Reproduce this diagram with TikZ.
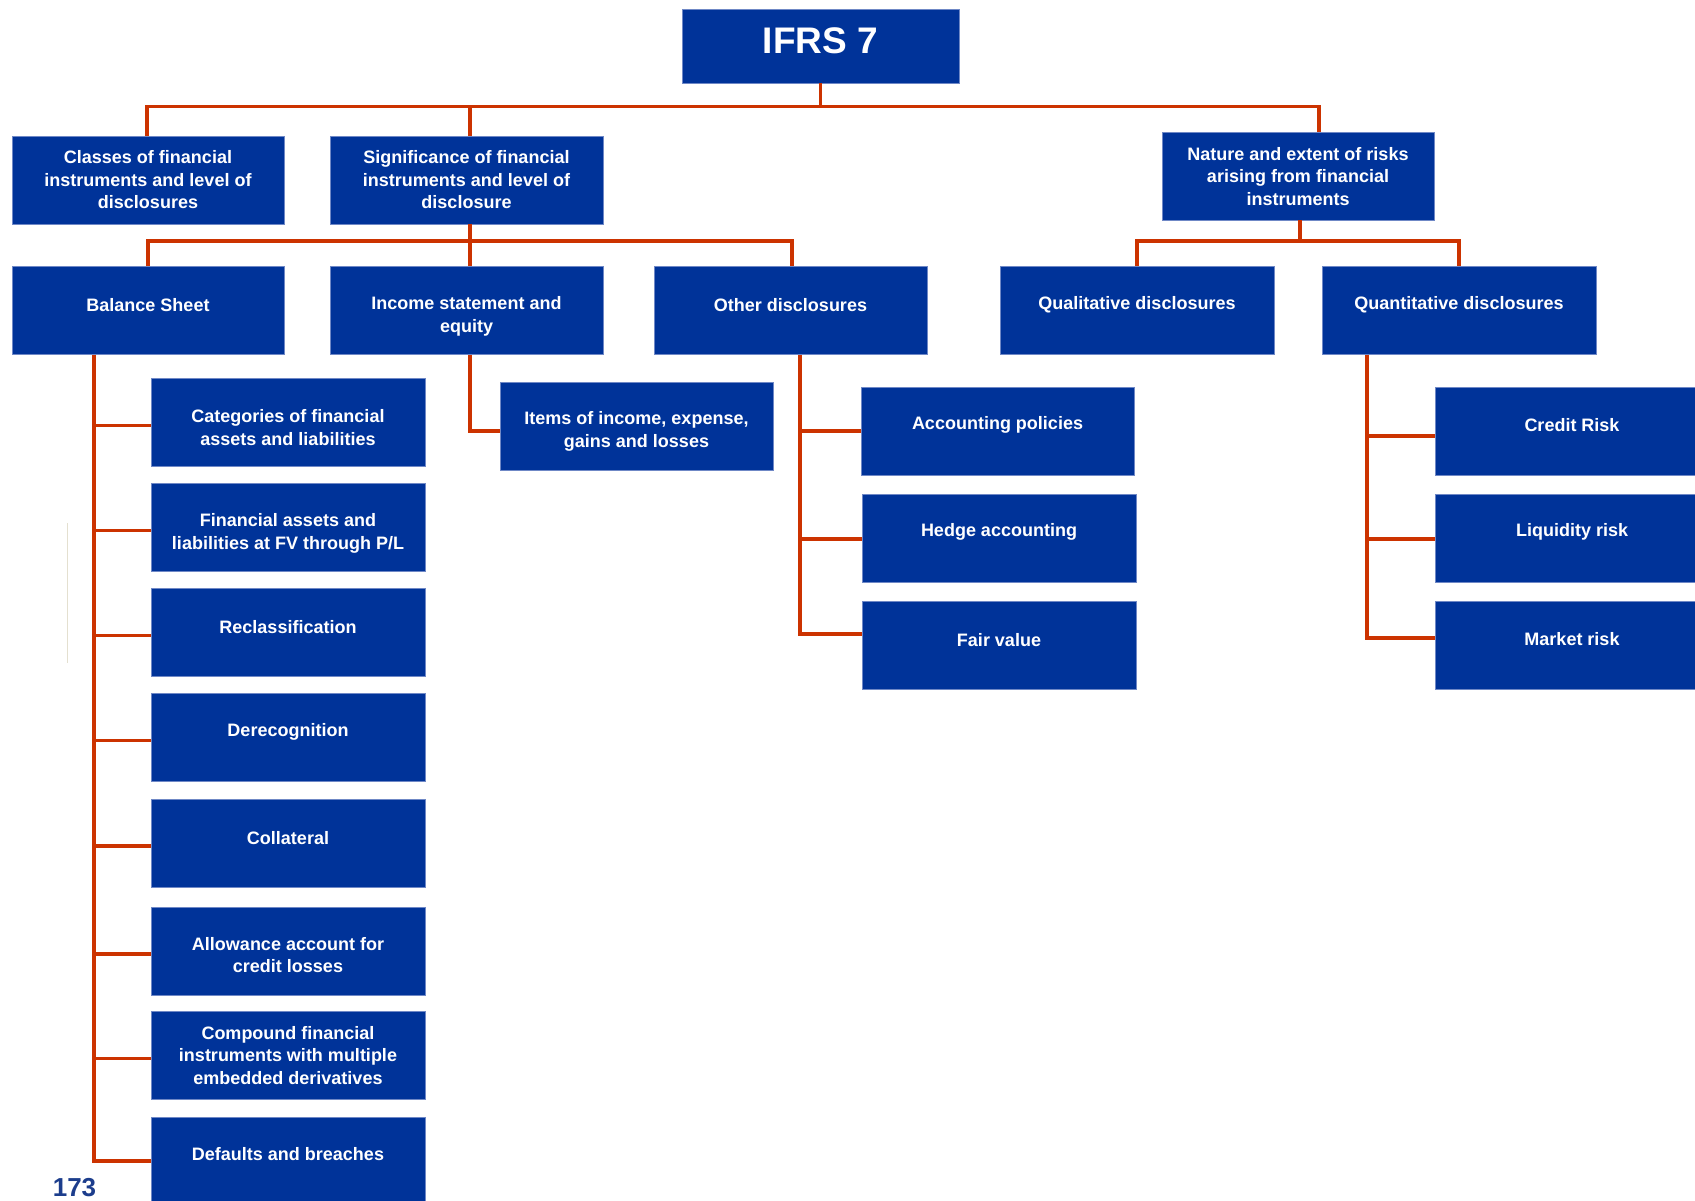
\documentclass[tikz,border=0pt]{standalone}
\usepackage{fontspec}
\setmainfont{Liberation Sans}
\definecolor{boxblue}{HTML}{003399}
\definecolor{boxedge}{HTML}{6F88C6}
\definecolor{linered}{HTML}{CC3300}
\definecolor{pagenum}{HTML}{1C3D8C}
\definecolor{faint}{HTML}{E4E0D0}

% box with its label: name, centre x, centre y, width, label lift (up), text
\newcommand\mybox[6]{%
  \node[box, minimum width=#4pt] (#1) at (#2,#3) {};
  \node[lbl] (#1-t) at ([yshift=#5pt]#1.center) {#6};
}

\begin{document}
\begin{tikzpicture}[x=1pt,y=-1pt,
  box/.style={draw=boxedge, line width=0.8pt, fill=boxblue,
              minimum height=88pt, inner sep=0pt},
  lbl/.style={text=white, font=\fontsize{18}{22.5}\selectfont\bfseries,
              align=center, inner sep=0pt},
  conn/.style={draw=linered, line width=3.5pt},
]
\useasboundingbox (0,0) rectangle (1695,1201);

% ---- top level ----
\node[box, minimum width=277pt, minimum height=74pt] (ifrs) at (820.5,46) {};
\node[lbl, font=\fontsize{37}{40}\selectfont\bfseries] (ifrs-t) at ([yshift=5.5pt]ifrs.center) {IFRS 7};

\mybox{classes}{148}{180}{272}{0}{Classes of financial\\instruments and level of\\disclosures}
\mybox{sig}{466.5}{180}{273}{0}{Significance of financial\\instruments and level of\\disclosure}
\mybox{nat}{1298}{176}{272}{-0.5}{Nature and extent of risks\\arising from financial\\instruments}

% ---- second level ----
\mybox{bs}{148}{310.5}{272}{5.5}{Balance Sheet}
\mybox{inc}{466.5}{310.5}{273}{-6}{Income statement and\\equity}
\mybox{oth}{790.5}{310.5}{273}{5.5}{Other disclosures}
\mybox{qual}{1137}{310.5}{274}{5.5}{Qualitative disclosures}
\mybox{quan}{1459}{310.5}{274}{5.5}{Quantitative disclosures}

% ---- balance sheet items ----
\mybox{bs1}{288}{422.5}{274}{-5}{Categories of financial\\assets and liabilities}
\mybox{bs2}{288}{527.5}{274}{-6}{Financial assets and\\liabilities at FV through P/L}
\mybox{bs3}{288}{632.5}{274}{5.5}{Reclassification}
\mybox{bs4}{288}{737.5}{274}{5.5}{Derecognition}
\mybox{bs5}{288}{843}{274}{5}{Collateral}
\mybox{bs6}{288}{951}{274}{-4}{Allowance account for\\credit losses}
\mybox{bs7}{288}{1055.5}{274}{0}{Compound financial\\instruments with multiple\\embedded derivatives}
\mybox{bs8}{288}{1161}{274}{6.5}{Defaults and breaches}

% ---- income statement item ----
\mybox{items}{636.5}{426.5}{273}{-5}{Items of income, expense,\\gains and losses}

% ---- other disclosures items ----
\mybox{acc}{997.5}{431}{273}{6}{Accounting policies}
\mybox{hedge}{999}{538}{274}{6}{Hedge accounting}
\mybox{fair}{999}{645}{274}{5}{Fair value}

% ---- risk items ----
\mybox{credit}{1572}{431}{274}{6}{Credit Risk}
\mybox{liq}{1572}{538}{274}{6}{Liquidity risk}
\mybox{mkt}{1572}{645}{274}{6}{Market risk}

% ---- connectors: root ----
\draw[conn] (ifrs.south) -- ++(0,24);
\draw[conn] ([xshift=-1pt]classes.north) -- ++(0,-29) -| ([xshift=21pt]nat.north);
\draw[conn] ([xshift=3.5pt]sig.north) -- ++(0,-29);

% ---- connectors: second level ----
\draw[conn] ([xshift=3.5pt]sig.south) -- ([xshift=3.5pt]inc.north);
\draw[conn] (bs.north) -- ++(0,-25) -| ([xshift=1.5pt]oth.north);
\draw[conn] ([xshift=2pt]nat.south) -- ++(0,22);
\draw[conn] (qual.north) -- ++(0,-25) -| (quan.north);

% ---- connectors: balance sheet ----
\coordinate (bsstem) at ([xshift=-54pt]bs.south);
\draw[conn] (bsstem) |- (bs8.west);
\foreach \n in {bs1,bs2,bs3,bs4,bs5,bs6,bs7}{
  \path ([yshift=-3pt]\n.west) coordinate (\n-in);
  \draw[conn] (bsstem |- \n-in) -- (\n-in);
}

% ---- connectors: income statement ----
\draw[conn] ([xshift=3.5pt]inc.south) |- ([yshift=-4.5pt]items.west);

% ---- connectors: other disclosures ----
\coordinate (othstem) at ([xshift=9.5pt]oth.south);
\draw[conn] (othstem) |- ([yshift=11pt]fair.west);
\draw[conn] (othstem |- acc.west) -- (acc.west);
\path ([yshift=-1pt]hedge.west) coordinate (hedge-in);
\draw[conn] (othstem |- hedge-in) -- (hedge-in);

% ---- connectors: quantitative ----
\coordinate (qstem) at ([xshift=-92pt]quan.south);
\draw[conn] (qstem) |- ([yshift=7pt]mkt.west);
\path ([yshift=-5pt]credit.west) coordinate (credit-in);
\draw[conn] (qstem |- credit-in) -- (credit-in);
\path ([yshift=-1pt]liq.west) coordinate (liq-in);
\draw[conn] (qstem |- liq-in) -- (liq-in);

% ---- margin rule and page number ----
\draw[faint, line width=1pt] (67,523) -- (67,663);
\node[font=\fontsize{26}{28}\selectfont\bfseries, text=pagenum, anchor=base, inner sep=0pt] (page) at (74.5,1196) {173};
\end{tikzpicture}
\end{document}
